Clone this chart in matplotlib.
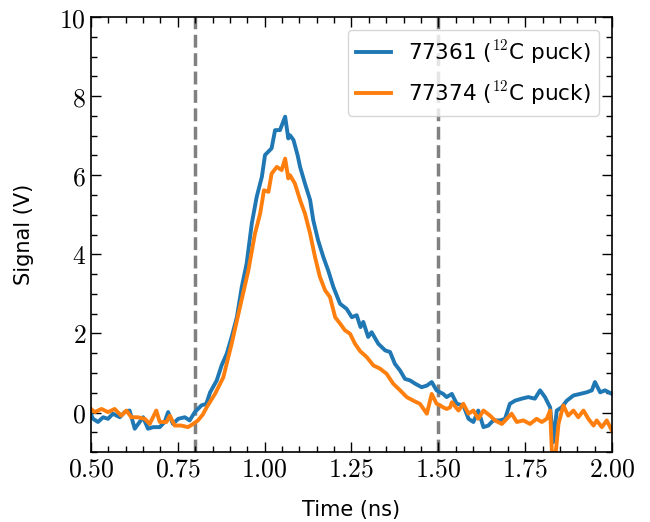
import numpy as np
import matplotlib
matplotlib.use("Agg")
from matplotlib import pyplot as plt
from matplotlib.ticker import AutoMinorLocator, FuncFormatter

# Zeitachse und Signale
t_77361 = [0.500, 0.506, 0.520, 0.535, 0.549, 0.563, 0.583, 0.597, 0.611, 0.626,
           0.640, 0.650, 0.664, 0.679, 0.698, 0.712, 0.722, 0.736, 0.751, 0.770,
           0.784, 0.799, 0.818, 0.832, 0.843, 0.862, 0.876, 0.891, 0.905, 0.920,
           0.934, 0.948, 0.963, 0.977, 0.992, 1.001, 1.020, 1.030, 1.044, 1.059,
           1.068, 1.073, 1.083, 1.095, 1.102, 1.116, 1.131, 1.140, 1.154, 1.169,
           1.183, 1.198, 1.217, 1.236, 1.251, 1.265, 1.276, 1.284, 1.298, 1.308,
           1.327, 1.347, 1.361, 1.375, 1.390, 1.404, 1.419, 1.433, 1.452, 1.467,
           1.481, 1.495, 1.505, 1.514, 1.524, 1.539, 1.553, 1.572, 1.587, 1.601,
           1.615, 1.630, 1.644, 1.658, 1.678, 1.692, 1.706, 1.721, 1.740, 1.759,
           1.778, 1.793, 1.807, 1.822, 1.831, 1.841, 1.855, 1.870, 1.889, 1.908,
           1.927, 1.942, 1.951, 1.966, 1.980, 2.000]
v_77361 = [-0.05, -0.16, -0.24, -0.12, -0.16, -0.03, -0.12, 0.01, 0.05, -0.41,
           -0.24, -0.12, -0.41, -0.37, -0.37, -0.24, 0.01, -0.29, -0.16, -0.12,
           -0.20, 0.01, 0.18, 0.22, 0.51, 0.81, 1.19, 1.49, 1.91, 2.41,
           3.17, 3.76, 4.78, 5.45, 5.96, 6.51, 6.68, 7.14, 7.14, 7.48,
           6.93, 7.01, 6.89, 6.50, 6.21, 5.79, 5.37, 4.86, 4.35, 3.93,
           3.59, 3.17, 2.75, 2.62, 2.41, 2.46, 2.16, 2.29, 1.91, 2.03,
           1.74, 1.57, 1.53, 1.23, 1.06, 0.85, 0.81, 0.73, 0.64, 0.68,
           0.77, 0.56, 0.51, 0.47, 0.39, 0.47, 0.22, 0.18, -0.16, -0.24,
           0.05, -0.37, -0.33, -0.20, -0.20, -0.16, 0.22, 0.30, 0.35, 0.39,
           0.35, 0.56, 0.39, 0.13, -0.75, 0.05, 0.13, 0.30, 0.43, 0.47,
           0.51, 0.56, 0.77, 0.51, 0.56, 0.47]

t_77374 = [0.500, 0.511, 0.530, 0.549, 0.568, 0.587, 0.602, 0.616, 0.635, 0.655,
           0.669, 0.688, 0.698, 0.717, 0.727, 0.741, 0.760, 0.779, 0.794, 0.808,
           0.822, 0.833, 0.857, 0.881, 0.905, 0.929, 0.953, 0.972, 0.987, 0.998,
           1.011, 1.020, 1.035, 1.049, 1.059, 1.068, 1.073, 1.087, 1.102, 1.116,
           1.131, 1.145, 1.159, 1.174, 1.188, 1.203, 1.217, 1.231, 1.246, 1.260,
           1.275, 1.294, 1.313, 1.332, 1.351, 1.370, 1.390, 1.409, 1.428, 1.447,
           1.467, 1.481, 1.495, 1.505, 1.514, 1.524, 1.534, 1.539, 1.558, 1.572,
           1.587, 1.601, 1.615, 1.630, 1.649, 1.663, 1.683, 1.697, 1.711, 1.726,
           1.745, 1.764, 1.783, 1.798, 1.812, 1.822, 1.829, 1.836, 1.846, 1.860,
           1.874, 1.889, 1.903, 1.918, 1.932, 1.947, 1.956, 1.971, 1.985, 2.000]
v_77374 = [0.09, 0.01, 0.09, 0.01, 0.09, -0.08, 0.05, -0.12, -0.12, -0.16,
           -0.29, 0.05, -0.24, -0.24, -0.08, -0.33, -0.33, -0.37, -0.29, -0.20,
           -0.05, 0.13, 0.47, 0.89, 1.74, 2.67, 3.59, 4.52, 5.03, 5.62,
           5.58, 6.04, 6.21, 6.13, 6.42, 5.92, 6.00, 5.79, 5.37, 5.03,
           4.52, 3.93, 3.43, 3.09, 2.92, 2.41, 2.25, 2.08, 1.99, 1.74,
           1.55, 1.40, 1.19, 1.11, 0.98, 0.73, 0.56, 0.39, 0.30, 0.22,
           -0.03, 0.47, 0.22, 0.18, 0.13, 0.09, 0.13, 0.26, 0.05, 0.22,
           -0.03, 0.05, -0.16, 0.05, -0.08, -0.20, -0.29, -0.16, -0.03, -0.24,
           -0.20, -0.29, -0.16, -0.24, -0.16, 0.05, -1.40, -1.20, -0.29, 0.18,
           -0.08, 0.05, -0.12, 0.05, -0.16, -0.33, -0.20, -0.37, -0.20, -0.46]

labels = ["77361 ($^{12}$C puck)", "77374 ($^{12}$C puck)"]
grenzen = [0.8, 1.5]

plt.rcParams['mathtext.fontset'] = 'cm'

fig = plt.figure(figsize=(6.5, 5.22), dpi=100)
ax = fig.add_axes([0.14, 0.134, 0.8015, 0.8334])

for x in grenzen:
    ax.axvline(x=x, color='gray', linestyle='--', linewidth=2.5, zorder=1)

ax.plot(t_77361, v_77361, color='#1f77b4', linewidth=2.8, label=labels[0], zorder=2)
ax.plot(t_77374, v_77374, color='#ff7f0e', linewidth=2.8, label=labels[1], zorder=2)

ax.set_xlim(0.5, 2.0)
ax.set_ylim(-1, 10)
ax.set_xticks([0.5, 0.75, 1.0, 1.25, 1.5, 1.75, 2.0])
ax.set_yticks([0, 2, 4, 6, 8, 10])
ax.xaxis.set_minor_locator(AutoMinorLocator(5))
ax.yaxis.set_minor_locator(AutoMinorLocator(4))
ax.xaxis.set_major_formatter(FuncFormatter(lambda v, p: f"${v:.2f}$"))
ax.yaxis.set_major_formatter(FuncFormatter(lambda v, p: f"${v:.0f}$"))
ax.tick_params(which='both', direction='in', top=True, right=True, labelsize=18.5)
ax.tick_params(which='major', length=7, width=1)
ax.tick_params(which='minor', length=4, width=1)
for s in ax.spines.values():
    s.set_linewidth(1.2)

ax.set_xlabel("Time (ns)", fontsize=15, labelpad=12)
ax.set_ylabel("Signal (V)", fontsize=15, labelpad=18)
ax.legend(loc='upper right', fontsize=15.5, labelspacing=0.6, framealpha=0.8,
          borderaxespad=0.6, handlelength=1.6)

fig.savefig("out.png", dpi=100)
